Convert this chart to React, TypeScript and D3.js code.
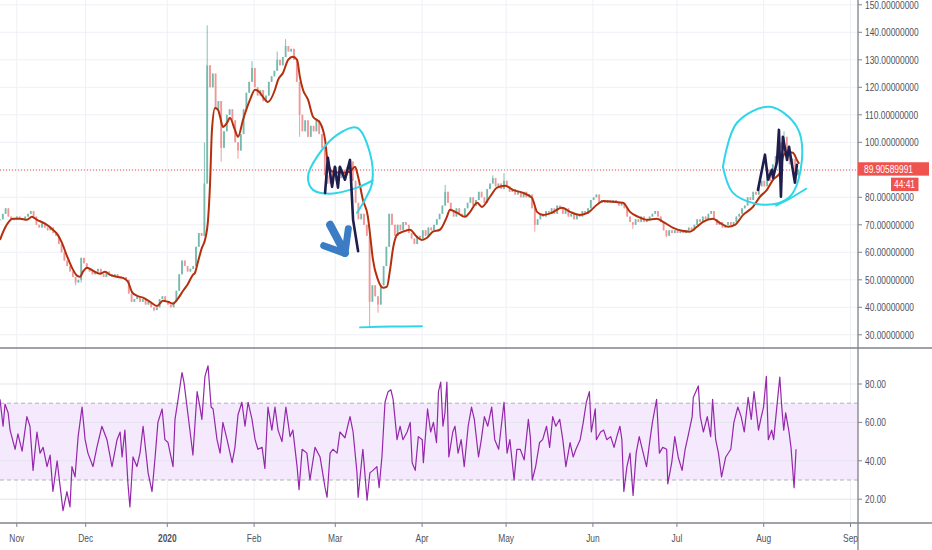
import React from 'react';
import * as d3 from 'd3';

// ---------- data ----------
const monthLabels = ['Nov', 'Dec', '2020', 'Feb', 'Mar', 'Apr', 'May', 'Jun', 'Jul', 'Aug', 'Sep'];
const monthBars = [6, 30.6, 59.75, 90.75, 119.75, 150.75, 180.75, 211.75, 241.75, 272.75, 303.75];
const priceTicks = [30, 40, 50, 60, 70, 80, 90, 100, 110, 120, 130, 140, 150];
const rsiTicks = [20, 40, 60, 80];
const rsiBand = [30, 70];
const lastPrice = 89.90589991;
const countdown = '44:41';

// daily closes, bar 0 .. 285
const closes = [
  72, 74, 76, 73, 72, 72, 73, 72.5, 72, 73, 74, 75, 73, 70, 69, 70.5, 69, 68, 69, 67,
  66, 63, 60, 57, 55, 53, 51, 49, 50, 58, 56, 54, 53, 52, 53, 54, 52, 51, 53, 52,
  51, 52, 51, 50.5, 51, 50, 45, 42, 43, 44, 42, 43, 41, 42, 40, 39, 40, 43, 44, 42,
  41, 40, 42, 46, 52, 57, 55, 53, 54, 55, 62, 67, 66, 85, 128, 120, 125, 112, 115, 98,
  104, 110, 112, 108, 100, 97, 103, 112, 118, 122, 127, 120, 117, 119, 115, 117, 122, 124, 126, 130,
  128, 131, 135, 133, 134, 130, 122, 110, 104, 108, 102, 106, 104, 108, 103, 98, 88, 85, 90, 86,
  91, 87, 90, 88, 91, 93, 86, 78, 72, 74, 70, 66, 42, 48, 44, 41, 48, 55, 62, 74,
  70, 66, 70, 68, 71, 70, 67, 65, 63, 66, 65, 68, 66, 69, 68, 70, 72, 74, 77, 82,
  78, 75, 73, 76, 74, 73, 76, 78, 80, 77, 79, 82, 80, 78, 83, 85, 87, 84, 85, 83,
  86, 84, 82, 83, 81, 82, 80, 82, 80, 81, 76, 70, 72, 74, 73, 75, 74, 76, 74, 77,
  76, 74, 76, 73, 74, 72, 74, 73, 75, 74, 76, 79, 80, 81, 78, 79, 78, 79, 78, 79,
  78, 77, 78, 76, 73, 71, 70, 72, 71, 73, 71, 72, 73, 74, 75, 73, 71, 68, 66, 68,
  67, 68, 67, 68, 67, 68, 69, 68, 70, 72, 71, 73, 72, 74, 75, 72, 70, 71, 69, 70,
  71, 70, 71, 73, 74, 76, 77, 80, 79, 82, 81, 84, 86, 84, 90, 86, 92, 95, 100, 98,
  102, 96, 92, 94, 88, 89.9,
];
// [bar, price] wick extremes
const wickHighs: [number, number][] = [
  [73, 100], [74, 142.5], [90, 129.5], [99, 133], [102, 137.5], [159, 84.5], [176, 88], [180, 88.8], [278, 105], [280, 104],
];
const wickLows: [number, number][] = [
  [27, 48], [29, 49], [55, 38.5], [79, 93], [85, 94], [107, 102], [132, 32.9], [135, 38], [191, 67.5], [226, 68.5], [238, 65.5],
];

// moving average [bar, price]
const maPoints: [number, number][] = [
  [0, 64.5], [1.8, 68.9], [4.6, 72.2], [7.1, 72.2], [9.6, 71.8], [11.4, 72.9], [13.2, 71.8], [16.1, 70.4], [18.9, 68.2],
  [20.4, 66.7], [22.1, 63.5], [23.9, 58.7], [25.7, 54.4], [27.5, 51.5], [28.6, 51.1], [29.6, 52.9], [31.1, 54.4],
  [33.2, 53.3], [35.7, 52.2], [37.5, 52.9], [39.3, 51.8], [41.8, 51.1], [43.9, 50.7], [45.7, 49.3], [47.1, 45.6],
  [48.9, 44.2], [51.1, 43.5], [53.6, 42], [56.1, 40.5], [58.2, 42.4], [60, 42], [61.8, 41.3], [63.2, 42.7], [65.4, 46],
  [67.1, 48.5], [68.9, 51.8], [69.6, 52.5], [70.7, 56.5], [72.1, 61.6], [73.2, 64.5], [74.3, 71.8], [75, 84.5],
  [75.7, 104.5], [76.8, 112.5], [77.9, 111.8], [78.6, 109.3], [79.6, 105.6], [81.1, 107.1], [82.1, 108.9], [83.9, 104.5],
  [85, 102], [86.8, 108.2], [89.3, 115.5], [91.1, 119.1], [92.9, 118], [93.9, 116.5], [95.7, 114.7], [98.2, 119.1],
  [99.3, 122.7], [101.1, 125.3], [102.9, 130], [104.6, 131.1], [106.1, 130], [107.1, 123.8], [108.2, 119.1], [110, 115.5],
  [111.8, 109.3], [114.3, 107.1], [116.1, 100.9], [117.1, 92.5], [118.9, 89.3], [122.5, 88.9], [125, 89.3], [126.8, 91.1],
  [127.9, 87.5], [129.6, 79.1], [131.4, 72.9], [132.1, 67.1], [133.2, 57.3], [135, 50], [136.8, 47.1], [138.2, 47.5],
  [139.3, 53.6], [140.4, 61.6], [141.8, 66.4], [143.9, 67.5], [146.4, 68.2], [148.9, 65.6], [150.7, 64.5], [152.5, 65.3],
  [154.6, 67.5], [157.1, 68.2], [159.6, 72.9], [160.7, 75.5], [163.2, 74.4], [166.1, 72.9], [167.9, 74.7], [170.4, 78],
  [172.1, 76.5], [175, 80.2], [177.5, 83.5], [180.4, 84.2], [183.2, 82.7], [186.8, 81.6], [190, 79.8], [191.8, 74.7],
  [193.9, 73.6], [197.1, 74.4], [200.7, 76.2], [203.6, 74.7], [207.1, 73.6], [210, 74.4], [213.2, 77.3], [215.4, 78.7],
  [218.9, 78.4], [222.5, 78], [225, 74.7], [227.9, 72.9], [231.1, 71.8], [234.6, 72.2], [236.8, 71.1], [240.4, 68.9],
  [243.6, 67.8], [246.4, 67.5], [248.9, 69.3], [251.1, 71.1], [254.6, 72.2], [257.1, 70.7], [260, 69.3], [262.5, 70],
  [265.4, 73.6], [268.9, 76.5], [271.4, 80.2], [273.9, 82.7], [276.1, 86.4], [278.6, 88.9], [279.6, 94.7], [281.1, 96.5],
  [283.2, 96.2], [284.6, 93.6], [285.4, 92.2],
];

// RSI [bar, value]
const rsiPoints: [number, number][] = [
  [0, 72], [1.1, 58], [1.8, 69.5], [2.9, 65], [3.6, 56], [5.4, 46], [6.4, 54], [7.9, 45], [9.6, 63], [10.7, 58],
  [11.8, 35], [13.2, 55], [14.3, 44], [15.4, 47], [16.8, 37], [17.9, 43], [18.9, 24], [20.4, 40], [22.5, 14], [23.9, 24],
  [25, 16], [25.7, 37], [26.8, 31.6], [27.9, 52.6], [29.3, 68], [30.4, 51], [31.4, 44], [33.2, 37], [34.6, 47], [36.4, 58],
  [38.2, 51], [40, 37], [41.8, 51], [42.9, 55], [43.6, 42], [44.6, 56], [45.7, 28], [46.4, 16], [47.5, 42], [48.9, 37],
  [50, 44], [51.1, 58], [52.9, 33.7], [54.3, 24], [55.4, 42], [56.4, 60], [57.9, 67], [58.9, 51], [60, 49.5], [61.8, 37],
  [62.5, 61.6], [63.6, 72], [65, 86], [65.7, 81], [66.8, 68], [67.9, 55], [68.9, 43], [70.4, 76], [71.4, 68], [72.1, 61.6],
  [73.2, 84], [74.3, 89.5], [75.4, 68], [76.1, 67], [77.5, 51], [78.6, 44], [79.6, 60], [81.1, 51], [82.9, 39], [83.9, 47],
  [85, 64], [86.4, 70.5], [87.5, 58], [88.6, 70.5], [90, 61.6], [91.1, 51], [92.1, 46], [93.6, 47], [94.6, 36], [95.7, 68],
  [97.1, 56], [98.2, 68], [99.3, 56], [100.7, 50], [102.1, 68], [103.6, 52.6], [104.6, 56], [106.1, 37], [106.8, 25], [107.9, 46],
  [109.6, 44], [110.7, 30], [112.5, 47], [114.3, 42], [116.1, 26], [116.8, 21], [117.9, 44], [118.9, 46], [120.4, 44], [121.4, 55],
  [123.2, 52], [125, 63], [126.1, 55], [127.5, 33.7], [127.9, 21], [129.3, 42], [129.6, 46], [131.1, 19.5], [132.1, 33.7], [133.2, 35],
  [134.6, 37], [135.4, 26], [136.4, 42], [137.5, 70.5], [138.6, 76], [139.6, 77], [140.4, 72], [141.8, 51], [142.9, 58],
  [143.9, 51], [145.4, 55], [146.5, 60], [147.2, 39], [148.3, 35], [149.4, 52.6], [150.8, 51], [151.2, 39], [152.7, 67],
  [153.8, 55], [154.8, 60], [155.9, 49.5], [156.6, 76], [157.4, 81], [158.2, 58], [158.9, 65], [159.6, 81], [160.3, 42],
  [161.7, 55], [162.5, 58], [163.6, 44], [164.7, 51], [165.8, 37], [167.2, 58], [168.4, 68], [169.4, 61.6], [170.9, 42],
  [171.9, 51], [173, 63], [174.2, 58], [175.6, 68], [176.7, 51], [178.1, 46], [180, 70.5], [181.1, 44], [182.1, 51],
  [183.6, 30], [184.6, 46], [185.8, 46], [187.2, 40.5], [188.7, 61.6], [189.4, 52.6], [190.1, 30], [191.3, 37], [192.7, 49.5],
  [193.8, 51], [195.2, 58], [196.3, 47], [197.4, 63], [198.5, 58], [199.9, 61.6], [201, 51], [202.1, 37], [203.6, 49.5],
  [204.7, 42], [205.7, 46], [207.2, 51], [208.3, 60], [209.4, 70.5], [210.5, 76], [211.2, 55], [212.6, 67], [213, 51],
  [214.5, 55], [215.6, 56], [216.7, 51], [218.1, 52.6], [219.3, 47], [220.3, 52.6], [221.4, 58], [222.1, 51], [222.8, 24],
  [223.9, 37], [225, 44], [226.1, 22], [227.2, 44], [228.3, 52.6], [229.4, 46], [230.9, 37], [232, 49.5], [233, 60],
  [234.5, 72], [235.5, 44], [236.7, 47], [238.1, 46], [238.5, 28], [239.9, 39], [241, 52.6], [242.2, 42], [243.6, 35],
  [244.7, 46], [245.7, 52.6], [247.2, 63], [247.6, 73], [249.4, 79], [250.1, 63], [251.2, 55], [252.6, 63], [253.8, 52.6],
  [254.5, 72], [255.6, 51], [256.6, 44], [257.7, 31.6], [259.2, 42], [261, 46], [262.1, 60], [263.5, 68], [264.7, 63],
  [265.8, 55], [267.2, 73], [268.3, 61.6], [269.3, 76], [270.9, 56], [271.9, 63], [272.7, 68], [273.7, 84], [274.4, 51],
  [275.6, 56], [276.3, 51], [277, 61.6], [278.5, 83.6], [279.2, 68], [279.9, 56], [280.6, 65], [281.8, 55], [282.5, 47],
  [283.6, 26], [284.3, 46],
];

// hand-drawn annotations in [bar, price]
const marchZigzag: [number, number][] = [
  [116.1, 81.6], [117.1, 94.4], [118.6, 83.8], [119.6, 91.1], [120.7, 83.5], [121.4, 91.1], [123.2, 86.4], [125, 93.6],
  [126.1, 71.8], [127.9, 60.4],
];
const augZigzag: [number, number][] = [
  [270.7, 82.7], [273.2, 95.5], [274.3, 86.4], [275.7, 90], [276.1, 87.1], [277.5, 92.9], [278.2, 104.5], [278.9, 80.2],
  [279.6, 102], [281.1, 93.6], [281.8, 98.4], [283.9, 85.3], [284.6, 91.8],
];
const marchCircle: [number, number][] = [
  [127.5, 74.4], [130.7, 79.8], [132.9, 85.3], [132.1, 96.2], [127.5, 105.3], [120.4, 102.7], [113.2, 94.7], [110, 87.5],
  [111.8, 82.7], [117.9, 81.3], [127.5, 83.5], [133.2, 86.2],
];
const augCircle: [number, number][] = [
  [258.2, 91.1], [263.2, 107.1], [275, 112.9], [284.6, 105.6], [286.4, 93.6], [282.1, 80.2], [272.5, 77.3], [261.8, 81.6],
  [258.2, 91.1],
];
const augTail: [number, number][] = [[277.2, 77.0], [282, 79.5], [287.9, 83.1]];
const supportLine: [number, number][] = [[128.6, 32.7], [140, 33.0], [150.7, 33.1]];
const arrowShaft: [number, number][] = [[117.9, 70], [123.2, 59.8]];
const arrowHead: [number, number][] = [[124.4, 68.6], [123.2, 59.6], [115.6, 62.4]];

// ---------- layout ----------
const W = 932;
const H = 550;
const AXIS_X = 858;
const SEP_Y = 348;
const BOTTOM_Y = 523;
const FONT = "'Liberation Sans', Arial, sans-serif";
const TEXT = '#4e5260';
const GRID = '#edf0f5';
const AXIS = '#80838c';

function Label(props: { x: number; y: number; text: string; anchor?: string; fill?: string; weight?: string }) {
  const { x, y, text, anchor = 'start', fill = TEXT, weight = 'normal' } = props;
  return (
    <text
      transform={`translate(${x},${y}) scale(0.8,1)`}
      textAnchor={anchor as any}
      fontFamily={FONT}
      fontSize={10.5}
      fontWeight={weight}
      fill={fill}
    >
      {text}
    </text>
  );
}

export default function App() {
  const x = d3.scaleLinear().domain([0, 304]).range([0, 851.2]);
  const y = d3.scaleLinear().domain([30, 150]).range([334.8, 4.8]);
  const yr = d3.scaleLinear().domain([20, 80]).range([499.2, 384]);

  const highMap = new Map(wickHighs);
  const lowMap = new Map(wickLows);

  const pl = d3.line<[number, number]>().x((d) => x(d[0])).y((d) => y(d[1]));
  const maLine = d3.line<[number, number]>().x((d) => x(d[0])).y((d) => y(d[1])).curve(d3.curveMonotoneX);
  const rsiLine = d3.line<[number, number]>().x((d) => x(d[0])).y((d) => yr(d[1]));
  const smooth = d3.line<[number, number]>().x((d) => x(d[0])).y((d) => y(d[1])).curve(d3.curveCatmullRom.alpha(0.5));

  const yl = y(lastPrice);

  return (
    <div style={{ position: 'absolute', left: 0, top: 0, width: W, height: H, background: '#fff' }}>
      <svg width={W} height={H} viewBox={`0 0 ${W} ${H}`} style={{ display: 'block' }}>
        <defs>
          <clipPath id="pclip"><rect x={0} y={0} width={AXIS_X} height={SEP_Y} /></clipPath>
          <clipPath id="rclip"><rect x={0} y={SEP_Y + 1} width={AXIS_X} height={BOTTOM_Y - SEP_Y - 1} /></clipPath>
          <clipPath id="dclip"><rect x={0} y={BOTTOM_Y} width={AXIS_X} height={H - BOTTOM_Y} /></clipPath>
        </defs>
        <rect x={0} y={0} width={W} height={H} fill="#ffffff" />

        {/* vertical grid */}
        {monthBars.map((b, i) => (
          <line key={'vg' + i} x1={x(b)} x2={x(b)} y1={0} y2={BOTTOM_Y} stroke={GRID} strokeWidth={1} />
        ))}
        {/* price horizontal grid */}
        {priceTicks.map((v) => (
          <line key={'hg' + v} x1={0} x2={AXIS_X} y1={y(v)} y2={y(v)} stroke={GRID} strokeWidth={1} />
        ))}

        {/* RSI pane */}
        <g clipPath="url(#rclip)">
          <rect x={0} y={yr(rsiBand[1])} width={AXIS_X} height={yr(rsiBand[0]) - yr(rsiBand[1])} fill="#f4e9fd" />
          {rsiTicks.map((v) => (
            <line key={'rg' + v} x1={0} x2={AXIS_X} y1={yr(v)} y2={yr(v)} stroke="#e6e3ee" strokeWidth={1} />
          ))}
          {rsiBand.map((v) => (
            <line key={'rb' + v} x1={0} x2={AXIS_X} y1={yr(v)} y2={yr(v)} stroke="#b2b0ba" strokeWidth={1} strokeDasharray="4 3" />
          ))}
          <path d={rsiLine(rsiPoints) || ''} fill="none" stroke="#9527ab" strokeWidth={1.2} strokeLinejoin="round" />
        </g>

        {/* price pane */}
        <g clipPath="url(#pclip)">
          <line x1={0} x2={AXIS_X} y1={yl} y2={yl} stroke="#ef5350" strokeWidth={1} strokeDasharray="1 2" />
          {closes.map((c, i) => {
            const o = i > 0 ? closes[i - 1] : c;
            const hi = Math.max(o, c, highMap.has(i) ? (highMap.get(i) as number) : -Infinity);
            const lo = Math.min(o, c, lowMap.has(i) ? (lowMap.get(i) as number) : Infinity);
            const up = c >= o;
            const col = up ? '#5fae9f' : '#ee8585';
            const cx = x(i);
            const top = y(Math.max(o, c));
            const bh = Math.max(1, y(Math.min(o, c)) - top);
            return (
              <g key={'c' + i} opacity={0.85}>
                <line x1={cx} x2={cx} y1={y(hi)} y2={y(lo)} stroke={col} strokeWidth={0.9} />
                <rect x={cx - 0.9} y={top} width={1.8} height={bh} fill={col} />
              </g>
            );
          })}
          <path d={maLine(maPoints) || ''} fill="none" stroke="#b4300c" strokeWidth={2} strokeLinejoin="round" />

          {/* annotations */}
          <path d={smooth(marchCircle) || ''} fill="none" stroke="#2fd6ea" strokeWidth={2} strokeLinecap="round" />
          <path d={smooth(augCircle) || ''} fill="none" stroke="#2fd6ea" strokeWidth={2} strokeLinecap="round" />
          <path d={smooth(augTail) || ''} fill="none" stroke="#2fd6ea" strokeWidth={2} strokeLinecap="round" />
          <path d={smooth(supportLine) || ''} fill="none" stroke="#2fd6ea" strokeWidth={2} strokeLinecap="round" />
          <path d={pl(marchZigzag) || ''} fill="none" stroke="#1e1d4d" strokeWidth={2.6} strokeLinejoin="round" strokeLinecap="round" />
          <path d={pl(augZigzag) || ''} fill="none" stroke="#1e1d4d" strokeWidth={2.6} strokeLinejoin="round" strokeLinecap="round" />
          <path d={pl(arrowShaft) || ''} fill="none" stroke="#3b7cc4" strokeWidth={8} strokeLinecap="round" />
          <path d={pl(arrowHead) || ''} fill="none" stroke="#3b7cc4" strokeWidth={7} strokeLinecap="round" strokeLinejoin="round" />
        </g>

        {/* axes lines */}
        <line x1={0} x2={W} y1={SEP_Y} y2={SEP_Y} stroke={AXIS} strokeWidth={1.3} />
        <line x1={0} x2={W} y1={BOTTOM_Y} y2={BOTTOM_Y} stroke={AXIS} strokeWidth={1.3} />
        <line x1={AXIS_X} x2={AXIS_X} y1={0} y2={H} stroke={AXIS} strokeWidth={1.3} />

        {/* price axis labels */}
        {priceTicks.map((v) => (
          <g key={'pl' + v}>
            <line x1={AXIS_X} x2={AXIS_X + 4} y1={y(v)} y2={y(v)} stroke={AXIS} />
            <Label x={865} y={y(v) + 3.8} text={v.toFixed(8)} />
          </g>
        ))}
        {/* RSI axis labels */}
        {rsiTicks.map((v) => (
          <g key={'rl' + v}>
            <line x1={AXIS_X} x2={AXIS_X + 4} y1={yr(v)} y2={yr(v)} stroke={AXIS} />
            <Label x={865} y={yr(v) + 3.8} text={v.toFixed(2)} />
          </g>
        ))}

        {/* last price tag */}
        <rect x={AXIS_X} y={yl - 7.8} width={71} height={13.4} fill="#ef5350" />
        <Label x={864} y={yl + 3.2} text={lastPrice.toFixed(8)} fill="#ffffff" />
        <rect x={891} y={yl + 7.6} width={27.5} height={13.4} fill="#ef5350" />
        <Label x={894} y={yl + 18.4} text={countdown} fill="#ffffff" />

        {/* date axis */}
        {monthBars.map((b, i) => (
          <line key={'dt' + i} x1={x(b)} x2={x(b)} y1={BOTTOM_Y} y2={BOTTOM_Y + 4} stroke={AXIS} />
        ))}
        <g clipPath="url(#dclip)">
          {monthLabels.map((m, i) => (
            <Label key={'dl' + i} x={x(monthBars[i])} y={542} text={m} anchor="middle" weight={m === '2020' ? 'bold' : 'normal'} />
          ))}
        </g>
      </svg>
    </div>
  );
}
